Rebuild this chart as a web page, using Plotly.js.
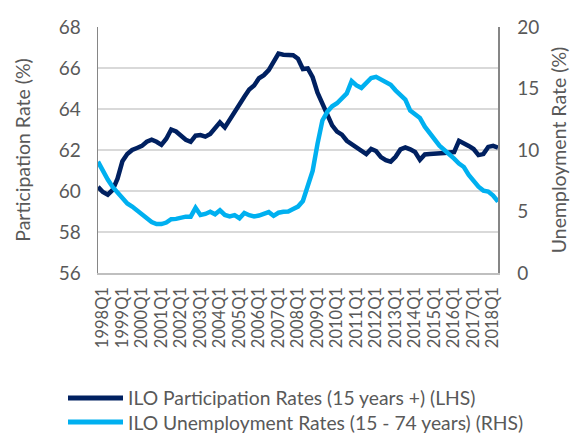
<!DOCTYPE html>
<html>
<head>
<meta charset="utf-8">
<script src="https://cdn.plot.ly/plotly-3.0.1.min.js"></script>
<style>html,body{margin:0;padding:0;background:#fff;}#chart{width:573px;height:437px;}</style>
</head>
<body>
<div id="chart"></div>
<script>
const quarters = [
"1997Q4",
"1998Q1","1998Q2","1998Q3","1998Q4","1999Q1","1999Q2","1999Q3","1999Q4",
"2000Q1","2000Q2","2000Q3","2000Q4","2001Q1","2001Q2","2001Q3","2001Q4",
"2002Q1","2002Q2","2002Q3","2002Q4","2003Q1","2003Q2","2003Q3","2003Q4",
"2004Q1","2004Q2","2004Q3","2004Q4","2005Q1","2005Q2","2005Q3","2005Q4",
"2006Q1","2006Q2","2006Q3","2006Q4","2007Q1","2007Q2","2007Q3","2007Q4",
"2008Q1","2008Q2","2008Q3","2008Q4","2009Q1","2009Q2","2009Q3","2009Q4",
"2010Q1","2010Q2","2010Q3","2010Q4","2011Q1","2011Q2","2011Q3","2011Q4",
"2012Q1","2012Q2","2012Q3","2012Q4","2013Q1","2013Q2","2013Q3","2013Q4",
"2014Q1","2014Q2","2014Q3","2014Q4","2015Q1","2015Q2","2015Q3","2015Q4",
"2016Q1","2016Q2","2016Q3","2016Q4","2017Q1","2017Q2","2017Q3","2017Q4",
"2018Q1","2018Q2"
];
const tickLabels = [
"1998Q1","1999Q1","2000Q1","2001Q1","2002Q1","2003Q1","2004Q1","2005Q1",
"2006Q1","2007Q1","2008Q1","2009Q1","2010Q1","2011Q1","2012Q1","2013Q1",
"2014Q1","2015Q1","2016Q1","2017Q1","2018Q1"
];
const participation = [
60.2, 59.95, 59.82, 60.05, 60.6, 61.45, 61.8, 62.0, 62.1, 62.2,
62.4, 62.5, 62.4, 62.25, 62.55, 63.0, 62.9, 62.7, 62.5, 62.4,
62.7, 62.73, 62.65, 62.78, 63.05, 63.35, 63.1, 63.5, 63.9, 64.25,
64.6, 64.95, 65.15, 65.5, 65.65, 65.9, 66.3, 66.7, 66.65, 66.65,
66.62, 66.45, 65.95, 65.98, 65.55, 64.8, 64.3, 63.8, 63.2, 62.9,
62.75, 62.45, 62.3, 62.15, 62.0, 61.8, 62.05, 61.95, 61.65, 61.5,
61.43, 61.67, 62.03, 62.13, 62.03, 61.9, 61.52, 61.78, 61.8, 61.8,
61.8, 61.85, 61.88, 61.9, 62.45, 62.35, 62.2, 62.05, 61.75, 61.8,
62.15, 62.2, 62.12
];
const unemployment = [
9.05, 8.3, 7.6, 7.0, 6.55, 6.15, 5.65, 5.4, 5.1, 4.75,
4.5, 4.15, 3.98, 3.98, 4.1, 4.38, 4.4, 4.5, 4.58, 4.58,
5.3, 4.72, 4.8, 4.98, 4.77, 5.1, 4.72, 4.6, 4.7, 4.45,
4.88, 4.7, 4.6, 4.67, 4.8, 4.95, 4.65, 4.9, 4.98, 5.0,
5.2, 5.4, 5.85, 7.1, 8.3, 10.5, 12.4, 13.1, 13.55, 13.8,
14.2, 14.6, 15.6, 15.25, 15.05, 15.5, 15.85, 15.95, 15.7, 15.55,
15.3, 14.85, 14.5, 14.1, 13.2, 12.85, 12.6, 11.9, 11.35, 10.8,
10.35, 10.0, 9.7, 9.3, 8.9, 8.62, 7.97, 7.42, 7.02, 6.7,
6.62, 6.3, 5.8
];
const seriesNames = [
"ILO Participation Rates (15 years +) (LHS)",
"ILO Unemployment Rates (15 - 74 years) (RHS)"
];
const colors = ["#002060", "#00B0F0"];

const FONT = "Lato, 'Open Sans', sans-serif";
const GREY = "#595959";

const traces = [
  {x: quarters, y: participation, type: "scatter", mode: "lines", name: seriesNames[0],
   line: {color: colors[0], width: 4.5}, yaxis: "y", showlegend: false},
  {x: quarters, y: unemployment, type: "scatter", mode: "lines", name: seriesNames[1],
   line: {color: colors[1], width: 4.5}, yaxis: "y2", showlegend: false}
];

const legendY = [-0.508, -0.606];
const shapes = [];
const annotations = [];
for (let k = 0; k < 2; k++) {
  shapes.push({type: "line", xref: "paper", yref: "paper", x0: -0.075, x1: 0.0625,
    y0: legendY[k], y1: legendY[k], line: {color: colors[k], width: 5}});
  annotations.push({xref: "paper", yref: "paper", x: 0.07, y: legendY[k],
    xanchor: "left", yanchor: "middle", showarrow: false, text: seriesNames[k],
    font: {family: FONT, size: 19.3, color: GREY}});
}

const layout = {
  width: 573, height: 437,
  margin: {l: 98, r: 75, t: 27, b: 164},
  paper_bgcolor: "#fff", plot_bgcolor: "#fff",
  font: {family: FONT, color: GREY},
  showlegend: false,
  xaxis: {type: "category", range: [0, quarters.length - 1],
    tickmode: "array", tickvals: tickLabels, ticktext: tickLabels,
    tickangle: -90, tickfont: {family: FONT, size: 16.5, color: GREY},
    showgrid: false, showline: true, linecolor: "#BFBFBF", linewidth: 1.5,
    ticks: "outside", ticklen: 6, tickcolor: "rgba(0,0,0,0)", zeroline: false},
  yaxis: {range: [56, 68], dtick: 2, tick0: 56,
    tickfont: {family: FONT, size: 19, color: GREY},
    showgrid: true, gridcolor: "#D9D9D9", gridwidth: 1.5,
    showline: true, linecolor: "#868686", linewidth: 1.5, zeroline: false,
    ticks: "outside", ticklen: 12, tickcolor: "rgba(0,0,0,0)",
    title: {text: "Participation Rate (%)", font: {family: FONT, size: 19.5, color: GREY}, standoff: 23}},
  yaxis2: {range: [0, 20], dtick: 5, tick0: 0, overlaying: "y", side: "right",
    tickfont: {family: FONT, size: 19, color: GREY},
    showgrid: false, showline: true, linecolor: "#868686", linewidth: 1.5, zeroline: false,
    ticks: "outside", ticklen: 14, tickcolor: "rgba(0,0,0,0)",
    title: {text: "Unemployment Rate (%)", font: {family: FONT, size: 19.5, color: GREY}, standoff: 14}},
  shapes: shapes,
  annotations: annotations
};

Plotly.newPlot("chart", traces, layout, {displayModeBar: false, staticPlot: true});
</script>
</body>
</html>
